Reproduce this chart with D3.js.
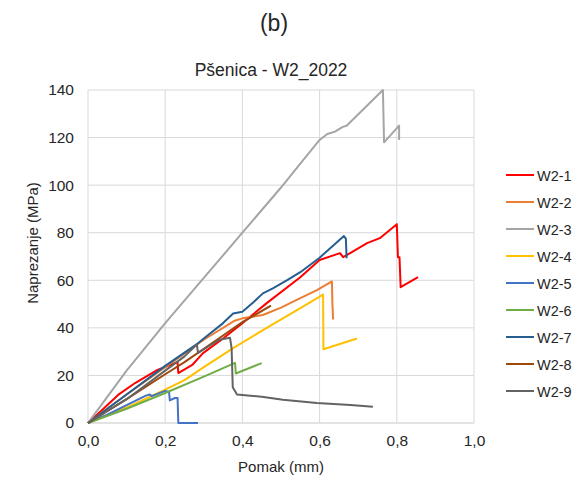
<!DOCTYPE html>
<html>
<head>
<meta charset="utf-8">
<script src="https://cdn.jsdelivr.net/npm/d3@7"></script>
<style>
  body { margin: 0; background: #fff; }
  text { font-family: "Liberation Sans", Arial, sans-serif; fill: #262626; }
</style>
</head>
<body>
<div class="chart-container"></div>
<script>
// tick labels
const xTicks = [0, 0.2, 0.4, 0.6, 0.8, 1.0]
const yTicks = [0, 20, 40, 60, 80, 100, 120, 140]

// series names and colours
const names = ['W2-1', 'W2-2', 'W2-3', 'W2-4', 'W2-5', 'W2-6', 'W2-7', 'W2-8', 'W2-9']
const colors = ['#ff0000', '#ed7d31', '#a5a5a5', '#ffc000', '#4472c4', '#70ad47', '#255e91', '#9e480e', '#636363']

// curves as [pomak (mm), naprezanje (MPa)]
const w21 = [[0,0],[0.04,6],[0.078,11.8],[0.122,16.8],[0.18,22.3],[0.225,25.2],[0.232,25.5],[0.234,21],[0.27,24.4],[0.298,29.4],[0.35,35.5],[0.4,42],[0.463,50.4],[0.55,61.3],[0.6,68.5],[0.653,71.4],[0.661,69.7],[0.723,75.6],[0.756,77.7],[0.8,83.6],[0.803,69.7],[0.807,69.7],[0.81,57.1],[0.855,61.3]]
const w22 = [[0,0],[0.1,12],[0.2,23.5],[0.3,35],[0.38,43],[0.4,44],[0.453,45.4],[0.5,48.5],[0.55,52.5],[0.593,55.9],[0.632,59.5],[0.633,51],[0.635,43.5]]
const w23 = [[0,0],[0.05,11],[0.1,22],[0.15,32],[0.2,42],[0.3,61],[0.4,80],[0.5,99],[0.55,109],[0.6,119],[0.62,121.5],[0.64,122.5],[0.66,124.5],[0.67,125],[0.764,140],[0.767,118],[0.806,125],[0.806,119]]
const w24 = [[0,0],[0.1,6.5],[0.2,14],[0.25,18],[0.3,23.5],[0.376,31.5],[0.463,40],[0.55,48.3],[0.609,54],[0.61,31],[0.697,35.5]]
const w25 = [[0,0],[0.05,3.5],[0.1,7.5],[0.15,11.5],[0.16,12],[0.165,11.3],[0.2,13.5],[0.21,13],[0.212,9.5],[0.225,10.5],[0.232,10.5],[0.234,0],[0.285,0]]
const w26 = [[0,0],[0.1,6],[0.2,12.6],[0.3,19.5],[0.381,25.3],[0.383,20.8],[0.45,25.2]]
const w27 = [[0,0],[0.1,12],[0.2,24],[0.285,33.5],[0.3,35.5],[0.35,42],[0.376,46],[0.4,46.8],[0.43,51],[0.453,54.5],[0.48,56.7],[0.515,60],[0.55,63.4],[0.6,69.5],[0.663,78.6],[0.668,77.5],[0.67,69.3]]
const w28 = [[0,0],[0.1,10],[0.2,20.5],[0.25,25.6],[0.334,35],[0.4,42.4],[0.474,49.3]]
const w29 = [[0,0],[0.1,10],[0.2,22],[0.25,28],[0.282,33],[0.285,29.5],[0.34,35],[0.368,35.8],[0.372,31.5],[0.375,15],[0.386,12],[0.45,11],[0.505,9.8],[0.593,8.4],[0.68,7.6],[0.738,6.8]]
const series = [w21, w22, w23, w24, w25, w26, w27, w28, w29]

const width = 573, height = 485
const m = {left: 88, right: 474, top: 90, bottom: 423}

svg = d3.select(".chart-container").append("svg").attr('width', width).attr('height', height)

x = d3.scaleLinear().domain([0, 1]).range([m.left, m.right])
y = d3.scaleLinear().domain([0, 140]).range([m.bottom, m.top])

// gridlines
svg.append('g').selectAll('line').data(yTicks).enter().append('line')
  .attr('x1', m.left).attr('x2', m.right)
  .attr('y1', d => y(d)).attr('y2', d => y(d))
  .attr('stroke', '#d9d9d9').attr('stroke-width', 1)
svg.append('g').selectAll('line').data(xTicks).enter().append('line')
  .attr('x1', d => x(d)).attr('x2', d => x(d))
  .attr('y1', m.top).attr('y2', m.bottom)
  .attr('stroke', '#d9d9d9').attr('stroke-width', 1)

// axes, only used for the labels
fmt = d => d3.format('.1f')(d).replace('.', ',')
xAxis = svg.append('g').attr('transform', `translate(0, ${m.bottom})`)
  .call(d3.axisBottom(x).tickValues(xTicks).tickFormat(fmt).tickSize(0).tickPadding(12))
yAxis = svg.append('g').attr('transform', `translate(${m.left}, 0)`)
  .call(d3.axisLeft(y).tickValues(yTicks).tickSize(0).tickPadding(14))
svg.selectAll('.domain').remove()
svg.selectAll('.tick text').attr('font-size', 15.5).attr('font-family', '"Liberation Sans", Arial, sans-serif').attr('fill', '#262626')

// bottom axis line
svg.append('line').attr('x1', m.left).attr('x2', m.right).attr('y1', m.bottom).attr('y2', m.bottom)
  .attr('stroke', '#d9d9d9').attr('stroke-width', 1)

// curves
line = d3.line().x(d => x(d[0])).y(d => y(d[1]))
svg.append('g').selectAll('path').data(series).enter().append('path')
  .attr('d', line)
  .attr('fill', 'none')
  .attr('stroke', (d, i) => colors[i])
  .attr('stroke-width', 2)
  .attr('stroke-linejoin', 'round')

// titles
svg.append('text').attr('x', 274).attr('y', 31).attr('text-anchor', 'middle').attr('font-size', 23).text('(b)')
svg.append('text').attr('x', 271).attr('y', 76).attr('text-anchor', 'middle').attr('font-size', 17.5).text('Pšenica - W2_2022')
svg.append('text').attr('x', 281).attr('y', 472).attr('text-anchor', 'middle').attr('font-size', 15).text('Pomak (mm)')
svg.append('text').attr('transform', 'translate(38, 243) rotate(-90)').attr('text-anchor', 'middle').attr('font-size', 15).text('Naprezanje (MPa)')

// legend
legend = svg.append('g').selectAll('g').data(names).enter().append('g')
  .attr('transform', (d, i) => `translate(506, ${175 + i * 27})`)
legend.append('line').attr('x1', 0).attr('x2', 28).attr('y1', 0).attr('y2', 0)
  .attr('stroke', (d, i) => colors[i]).attr('stroke-width', 2)
legend.append('text').attr('x', 31).attr('y', 5.5).attr('font-size', 14.5).text(d => d)
</script>
</body>
</html>
